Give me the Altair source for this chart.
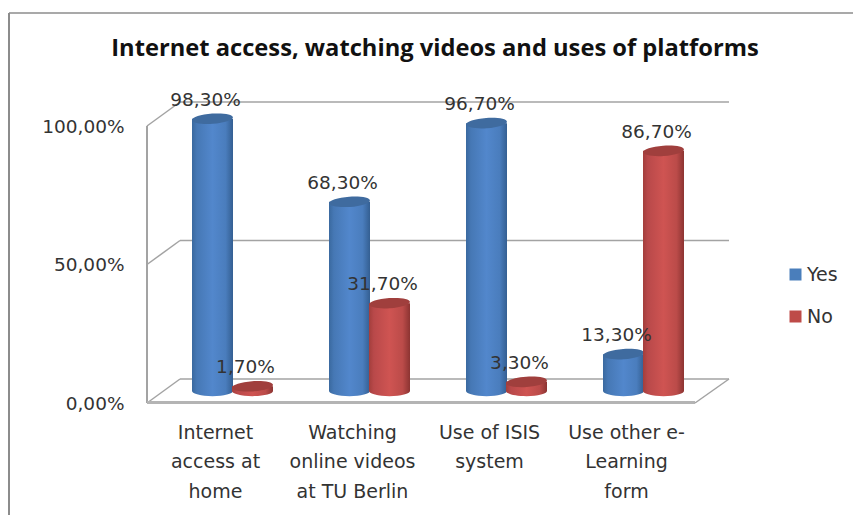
import altair as alt
import pandas as pd

# Survey answers, in percent
categories = ["Internet|access at|home", "Watching|online videos|at TU Berlin",
              "Use of ISIS|system", "Use other e-|Learning|form"]
yes_values = [98.3, 68.3, 96.7, 13.3]
no_values = [1.7, 31.7, 3.3, 86.7]
series_names = ["Yes", "No"]
tick_values = [0, 50, 100]

FONT = "DejaVu Sans"
TEXT = "#333333"
WALL = "#a3a3a3"
ELLIPSE = "M-1,0 A1,0.25 0 1 1 1,0 A1,0.25 0 1 1 -1,0 Z"

frame = pd.DataFrame(
    [{"category": c, "series": "Yes", "value": v} for c, v in zip(categories, yes_values)]
    + [{"category": c, "series": "No", "value": v} for c, v in zip(categories, no_values)]
)
frame["label"] = frame["value"].map(lambda v: f"{v:.2f}".replace(".", ",") + "%")
ticks = pd.DataFrame({"tick": tick_values})

y_scale = alt.Scale(domain=[0, 100], range=[302, 25])
x_scale = alt.Scale(domain=categories, range=[0, 548], paddingInner=0, paddingOuter=0)

# The category axis sits on the front floor edge, the value axis on the front wall edge
x_axis = alt.Axis(
    domain=False, ticks=False, labelAngle=0, labelPadding=20,
    labelExpr="split(datum.label, '|')", labelLineHeight=29.5,
    labelFont=FONT, labelFontSize=19, labelColor=TEXT,
    labelLimit=200, labelOverlap=False, labelFlush=False,
)
y_axis = alt.Axis(
    values=tick_values, domain=False, ticks=False, grid=False, labelPadding=23,
    labelExpr="replace(format(datum.value, '.2f'), '.', ',') + '%'",
    labelFont=FONT, labelFontSize=18.5, labelColor=TEXT,
)
x_enc = alt.X("category:N", scale=x_scale, sort=None, title=None, axis=x_axis)
y_enc = alt.Y("value:Q", scale=y_scale, title=None, axis=y_axis, stack=None)
y_tick = alt.Y("tick:Q", scale=y_scale, title=None, axis=y_axis)


def gradient(stops):
    return alt.Gradient(
        gradient="linear", x1=0, x2=1, y1=0, y2=0,
        stops=[alt.GradientStop(offset=o, color=c) for o, c in stops],
    )


look = {
    "Yes": {
        "shift": -3,
        "top": "#3f6b9f",
        "fill": gradient([(0, "#3a699f"), (0.12, "#4678b5"), (0.5, "#5287cc"),
                          (0.82, "#4a7dbd"), (1, "#345f92")]),
    },
    "No": {
        "shift": 37,
        "top": "#a03f3d",
        "fill": gradient([(0, "#a33e3c"), (0.12, "#b9494a"), (0.5, "#cf5452"),
                          (0.82, "#bb4b49"), (1, "#8c3432")]),
    },
}

# Empty layer that only carries the colour legend
legend_layer = (
    alt.Chart(frame)
    .transform_filter("false")
    .mark_bar()
    .encode(
        x=x_enc,
        y=y_enc,
        color=alt.Color(
            "series:N",
            scale=alt.Scale(domain=series_names, range=["#4a7ebb", "#be4b48"]),
            legend=alt.Legend(
                title=None, orient="none", legendX=639, legendY=164,
                symbolType="square", symbolSize=144, symbolStrokeWidth=0,
                labelFont=FONT, labelFontSize=19, labelColor=TEXT,
                rowPadding=22, labelOffset=2,
            ),
        ),
    )
)

# Walls and floor of the box: back lines, depth lines, front edges
grid = alt.Chart(ticks).mark_rule(color=WALL, strokeWidth=1.5, yOffset=-24).encode(
    y=y_tick, x=alt.value(33), x2=alt.value(582),
)
depth = alt.Chart(ticks).mark_rule(color=WALL, strokeWidth=1.5, y2Offset=-24).encode(
    y=y_tick, y2=alt.Y2("tick:Q"), x=alt.value(0), x2=alt.value(33),
)
front_wall = alt.Chart(pd.DataFrame({"tick": [0], "b": [100]})).mark_rule(color=WALL, strokeWidth=2).encode(
    y=y_tick, y2=alt.Y2("b:Q"), x=alt.value(0),
)
floor_base = pd.DataFrame({"tick": [0]})
floor_front = alt.Chart(floor_base).mark_rule(color="#b4b4b4", strokeWidth=3, yOffset=-0.5).encode(
    y=y_tick, x=alt.value(0), x2=alt.value(548),
)
floor_side = alt.Chart(floor_base).mark_rule(color=WALL, strokeWidth=1.5, y2Offset=-24).encode(
    y=y_tick, y2=alt.Y2("tick:Q"), x=alt.value(548), x2=alt.value(582),
)

# Chart frame, open at the bottom
frame_lines = [
    alt.Chart(floor_base).mark_rule(color="#8c8c8c", strokeWidth=2).encode(
        x=alt.value(-138), y=alt.value(-88), y2=alt.value(414)),
    alt.Chart(floor_base).mark_rule(color="#8c8c8c", strokeWidth=1.5).encode(
        x=alt.value(-138), x2=alt.value(706), y=alt.value(-88)),
]

# Cylinders, one series after the other so that "No" overlaps "Yes"
cylinders = []
for name in series_names:
    part = frame[frame["series"] == name]
    style = look[name]
    base = alt.Chart(part).encode(x=x_enc)
    cylinders.append(
        base.mark_point(shape=ELLIPSE, size=1681, filled=True, opacity=1, strokeWidth=0,
                        fill=style["fill"], xOffset=style["shift"], yOffset=-12)
        .encode(y=alt.Y("zero:Q", scale=y_scale, axis=y_axis, title=None))
        .transform_calculate(zero="0")
    )
    cylinders.append(
        base.mark_bar(width=41, fill=style["fill"], xOffset=style["shift"],
                      yOffset=-12, y2Offset=-12)
        .encode(y=y_enc, y2=alt.Y2(datum=0))
    )
    cylinders.append(
        base.mark_point(shape=ELLIPSE, size=1681, filled=True, opacity=1, strokeWidth=0,
                        fill=style["top"], xOffset=style["shift"], yOffset=-12, angle=356)
        .encode(y=y_enc)
    )

# Value labels above each cylinder
labels = []
for name in series_names:
    labels.append(
        alt.Chart(frame[frame["series"] == name])
        .mark_text(font=FONT, fontSize=18.5, color=TEXT, xOffset=look[name]["shift"] - 7, yOffset=-31)
        .encode(x=x_enc, y=y_enc, text="label:N")
    )

chart = (
    alt.layer(legend_layer, *frame_lines, grid, depth, front_wall, floor_front, floor_side,
              *cylinders, *labels)
    .properties(
        width=582,
        height=302,
        background="white",
        padding={"left": 147, "top": 101, "right": 124, "bottom": 112},
        autosize=alt.AutoSizeParams(type="none"),
        title=alt.TitleParams(
            "Internet access, watching videos and uses of platforms",
            font="Open Sans", fontSize=23.7, fontWeight="bold", color="#111111",
            anchor="middle", frame="group", dx=-3, offset=-49,
        ),
    )
    .configure_view(stroke=None)
)

chart.save("out.html", embed_options={"renderer": "svg", "actions": False})
